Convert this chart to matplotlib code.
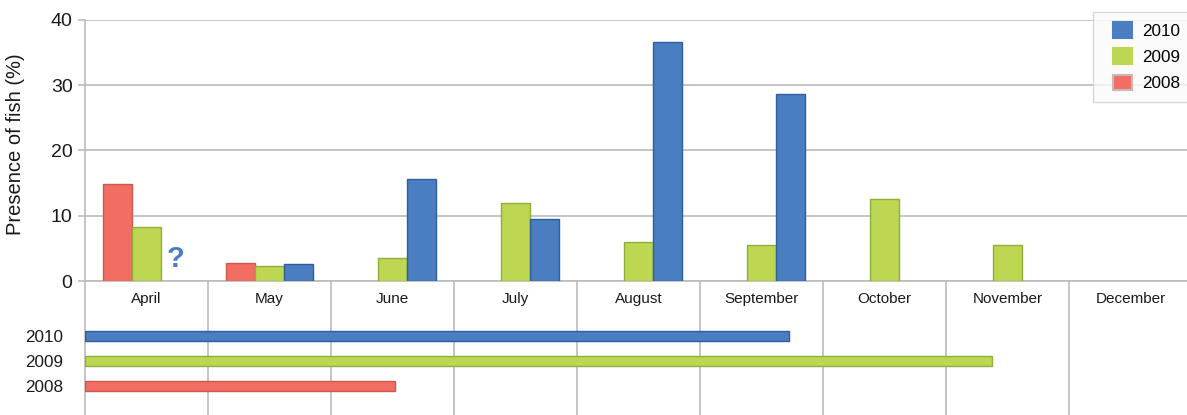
"""
Presence of fish per month (bars) and the length of the survey period per year (strips below).
"""

import numpy as np
import matplotlib
matplotlib.use('Agg')
import matplotlib.pyplot as plt
import matplotlib.patches as mpatches
from matplotlib.legend_handler import HandlerPatch

plt.rcParams['font.family'] = ['Liberation Sans', 'DejaVu Sans']

# data
months = ['April', 'May', 'June', 'July', 'August', 'September', 'October', 'November', 'December']
years = ['2010', '2009', '2008']
presence_2010 = [None, 2.6, 15.6, 9.5, 36.6, 28.7, None, None, None]
presence_2009 = [8.3, 2.3, 3.5, 12.0, 6.0, 5.5, 12.6, 5.5, None]
presence_2008 = [14.8, 2.7, None, None, None, None, None, None, None]
# end of sampling, in months counted from the 1st of April
survey_end = [5.72, 7.37, 2.52]
unknown_month = 'April'  # 2010 value unknown in April

# colours
face = {'2010': '#4A7EC0', '2009': '#BDD753', '2008': '#F26E63'}
edge = {'2010': '#2F5F9A', '2009': '#8FAE3C', '2008': '#D0574D'}
legend_edge = {'2010': '#4A7EC0', '2009': '#BDD753', '2008': '#C8B8B8'}
grid_col = '#BBBBBB'

W, H = 1187, 415
fig = plt.figure(figsize=(W / 100, H / 100), dpi=100)
x0, x_zero, y_top = 85, 281, 20
ax = fig.add_axes([x0 / W, (H - x_zero) / H, (W - x0) / W, (x_zero - y_top) / H])
ax2 = fig.add_axes([x0 / W, 0, (W - x0) / W, (H - x_zero) / H])
ax2.set_facecolor('none')

month_px = 123
xmax = (W - x0) / month_px
centers = np.arange(len(months)) + 0.5
width = 0.235
series = {'2010': presence_2010, '2009': presence_2009, '2008': presence_2008}
offsets = {'2008': -width, '2009': 0.0, '2010': width}

for yr in ['2008', '2009', '2010']:
    xs = [c + offsets[yr] for c, v in zip(centers, series[yr]) if v is not None]
    hs = [v for v in series[yr] if v is not None]
    ax.bar(xs, hs, width=width, color=face[yr], edgecolor=edge[yr], linewidth=1.0, zorder=3)

# question mark for the missing 2010 April value
qi = months.index(unknown_month)
ax.text(centers[qi] + offsets['2010'], 1.3, '?', color=face['2010'], fontsize=21,
        fontweight='bold', ha='center', va='bottom', zorder=4)

ax.set_xlim(0, xmax)
ax.set_ylim(0, 40)
ax.set_yticks([0, 10, 20, 30, 40])
ax.yaxis.grid(True, color=grid_col, linewidth=1.2, zorder=0)
ax.tick_params(axis='y', length=5, width=1.2, color=grid_col, labelsize=14, pad=4, labelcolor='#1a1a1a')
ax.set_xticks(centers)
ax.set_xticklabels(months)
ax.tick_params(axis='x', length=0, labelsize=11, pad=8, labelcolor='#1a1a1a')
for side in ['top', 'right']:
    ax.spines[side].set_visible(False)
for side in ['left', 'bottom']:
    ax.spines[side].set_color(grid_col)
    ax.spines[side].set_linewidth(1.2)
ax.set_ylabel('Presence of fish (%)', fontsize=14.5, color='#1a1a1a')
ax.yaxis.set_label_coords(-0.054, 0.525)

# survey period strips
row_px = 25
ypos = [2, 1, 0]
ymin = -29 / row_px
ax2.set_ylim(ymin, ymin + (H - x_zero) / row_px)
ax2.set_xlim(0, xmax)
for yr, yp, end in zip(years, ypos, survey_end):
    ax2.barh(yp, end, left=0, height=0.42, color=face[yr], edgecolor=edge[yr],
             linewidth=1.0, zorder=3)
for b in range(1, len(months)):
    ax2.axvline(b, color=grid_col, linewidth=1.2, zorder=1)
ax2.set_yticks(ypos)
ax2.set_yticklabels(years)
ax2.tick_params(axis='y', length=0, labelsize=12.3, pad=16, labelcolor='#1a1a1a')
ax2.set_xticks([])
for side in ['top', 'right', 'bottom']:
    ax2.spines[side].set_visible(False)
ax2.spines['left'].set_color(grid_col)
ax2.spines['left'].set_linewidth(1.2)


def square_at_right(legend, orig_handle, xdescent, ydescent, width, height, fontsize):
    # legend square pushed to the right end of the handle box
    side = 1.11 * fontsize
    return mpatches.Rectangle((-xdescent + width - side, -ydescent), side, height)


handles = [mpatches.Patch(facecolor=face[yr], edgecolor=legend_edge[yr], linewidth=1.5) for yr in years]
leg = ax.legend(handles=handles, labels=years,
                loc='upper left', bbox_to_anchor=(1092.5 / W, (H - 11.7) / H),
                bbox_transform=fig.transFigure, fontsize=12.3, frameon=True, fancybox=False,
                borderpad=0.6, labelspacing=0.56, handlelength=1.72, handleheight=1.05,
                handletextpad=0.57, borderaxespad=0,
                handler_map={mpatches.Patch: HandlerPatch(patch_func=square_at_right)})
leg.get_frame().set_edgecolor('#D0D0D0')
leg.get_frame().set_facecolor('#FBFBFB')
leg.get_frame().set_linewidth(1.0)
leg.set_zorder(5)

fig.savefig('out.png', dpi=100)
